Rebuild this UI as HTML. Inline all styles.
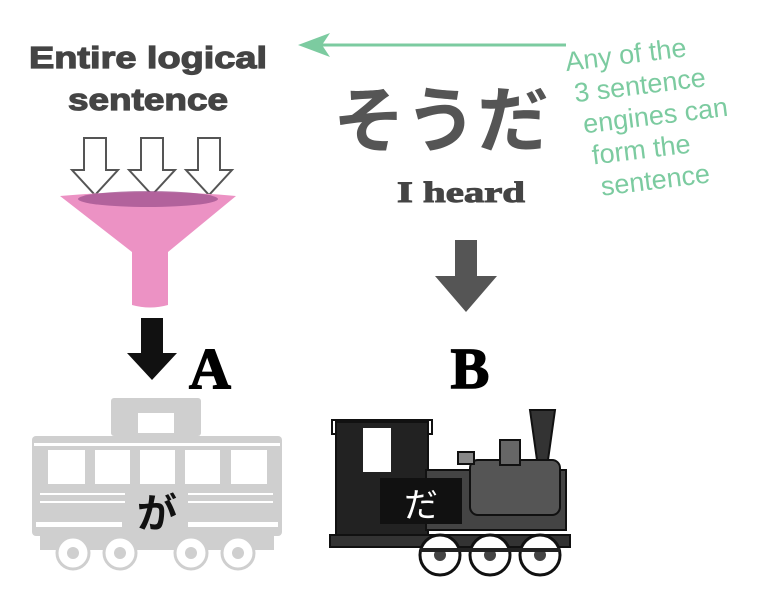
<!DOCTYPE html>
<html><head><meta charset="utf-8"><style>
html,body{margin:0;padding:0;background:#fff;}
svg{display:block}
.s{font-family:"Liberation Sans","Noto Sans CJK JP",sans-serif}
.r{font-family:"Liberation Serif",serif}
</style></head><body>
<svg width="765" height="600" viewBox="0 0 765 600" xmlns="http://www.w3.org/2000/svg">
<text class="s" x="148" y="68" text-anchor="middle" font-size="31" font-weight="bold" fill="#444" stroke="#444" stroke-width="1.2" textLength="238" lengthAdjust="spacingAndGlyphs">Entire logical</text>
<text class="s" x="148" y="110" text-anchor="middle" font-size="31" font-weight="bold" fill="#444" stroke="#444" stroke-width="1.2" textLength="160" lengthAdjust="spacingAndGlyphs">sentence</text>
<g fill="#fff" stroke="#555" stroke-width="2">
<path d="M84 138h22v32h12l-23 25-23-25h12z"/>
<path d="M141 138h22v32h12l-23 25-23-25h12z"/>
<path d="M198 138h22v32h12l-23 25-23-25h12z"/>
</g>
<path d="M60 196 Q148 188 236 196 L168 252 L168 305 Q150 310 132 305 L132 252 Z" fill="#ec92c4"/>
<ellipse cx="148" cy="199" rx="70" ry="8" fill="#9a4f8c" opacity="0.7"/>
<path d="M141 318h22v35h14l-25 27-25-27h14z" fill="#111"/>
<text class="r" x="210" y="388" text-anchor="middle" font-size="58" font-weight="bold" fill="#000" stroke="#000" stroke-width="1.5">A</text>
<line x1="318" y1="45" x2="566" y2="45" stroke="#7ccba0" stroke-width="3"/>
<path d="M298 45 L330 33 L322 45 L330 57 Z" fill="#7ccba0"/>
<g transform="rotate(-7 660 110)" fill="#7ccba0" font-size="27" class="s">
<text x="572" y="60">Any of the</text>
<text x="577" y="92">3 sentence</text>
<text x="582" y="124">engines can</text>
<text x="587" y="156">form the</text>
<text x="592" y="188">sentence</text>
</g>
<text class="s" x="441" y="146" text-anchor="middle" font-size="72" font-weight="bold" fill="#555">そうだ</text>
<text class="r" x="461" y="202" text-anchor="middle" font-size="30" font-weight="bold" fill="#444" stroke="#444" stroke-width="1" textLength="128" lengthAdjust="spacingAndGlyphs">I heard</text>
<path d="M455 240h22v36h20l-31 36-31-36h20z" fill="#555"/>
<text class="r" x="470" y="388" text-anchor="middle" font-size="58" font-weight="bold" fill="#000" stroke="#000" stroke-width="1.5">B</text>
<g fill="#cfcfcf">
<rect x="111" y="398" width="90" height="38" rx="3"/>
<rect x="32" y="436" width="250" height="100" rx="4"/>
<rect x="40" y="536" width="234" height="14"/>
</g>
<rect x="138" y="413" width="36" height="20" fill="#fff"/>
<rect x="34" y="443" width="246" height="3" fill="#fff"/>
<g fill="#fff">
<rect x="48" y="450" width="37" height="34"/><rect x="95" y="450" width="35" height="34"/><rect x="140" y="450" width="35" height="34"/><rect x="185" y="450" width="35" height="34"/><rect x="231" y="450" width="36" height="34"/>
<rect x="40" y="493" width="85" height="2"/><rect x="40" y="501" width="85" height="2"/>
<rect x="188" y="493" width="85" height="2"/><rect x="188" y="501" width="85" height="2"/>
<rect x="36" y="522" width="86" height="5"/><rect x="188" y="522" width="90" height="5"/>
</g>
<g fill="#fff" stroke="#cfcfcf" stroke-width="3">
<circle cx="73" cy="553" r="16"/><circle cx="120" cy="553" r="16"/><circle cx="191" cy="553" r="16"/><circle cx="238" cy="553" r="16"/>
</g>
<g fill="#cfcfcf"><circle cx="73" cy="553" r="6"/><circle cx="120" cy="553" r="6"/><circle cx="191" cy="553" r="6"/><circle cx="238" cy="553" r="6"/></g>
<text class="s" x="157" y="527" text-anchor="middle" font-size="40" font-weight="bold" fill="#111">が</text>
<g stroke="#111" stroke-width="2" fill="#222">
<rect x="332" y="420" width="100" height="14" fill="#fff"/>
<rect x="336" y="422" width="92" height="120"/>
<rect x="426" y="470" width="140" height="60" fill="#444"/>
<rect x="470" y="460" width="90" height="55" rx="8" fill="#555"/>
<path d="M530 410 L555 410 L548 460 L537 460 Z" fill="#333"/>
<rect x="500" y="440" width="20" height="25" fill="#666"/>
<rect x="458" y="452" width="16" height="12" fill="#888"/>
<rect x="330" y="535" width="240" height="12" fill="#333"/>
</g>
<rect x="363" y="428" width="28" height="44" fill="#fff"/>
<rect x="380" y="478" width="82" height="46" fill="#111"/>
<g fill="#fff" stroke="#111" stroke-width="3">
<circle cx="440" cy="555" r="20"/><circle cx="490" cy="555" r="20"/><circle cx="540" cy="555" r="20"/>
</g>
<g fill="#444"><circle cx="440" cy="555" r="6"/><circle cx="490" cy="555" r="6"/><circle cx="540" cy="555" r="6"/></g>
<line x1="420" y1="550" x2="560" y2="550" stroke="#222" stroke-width="4"/>
<text class="s" x="421" y="517" text-anchor="middle" font-size="34" fill="#fff">だ</text>
</svg>
</body></html>
